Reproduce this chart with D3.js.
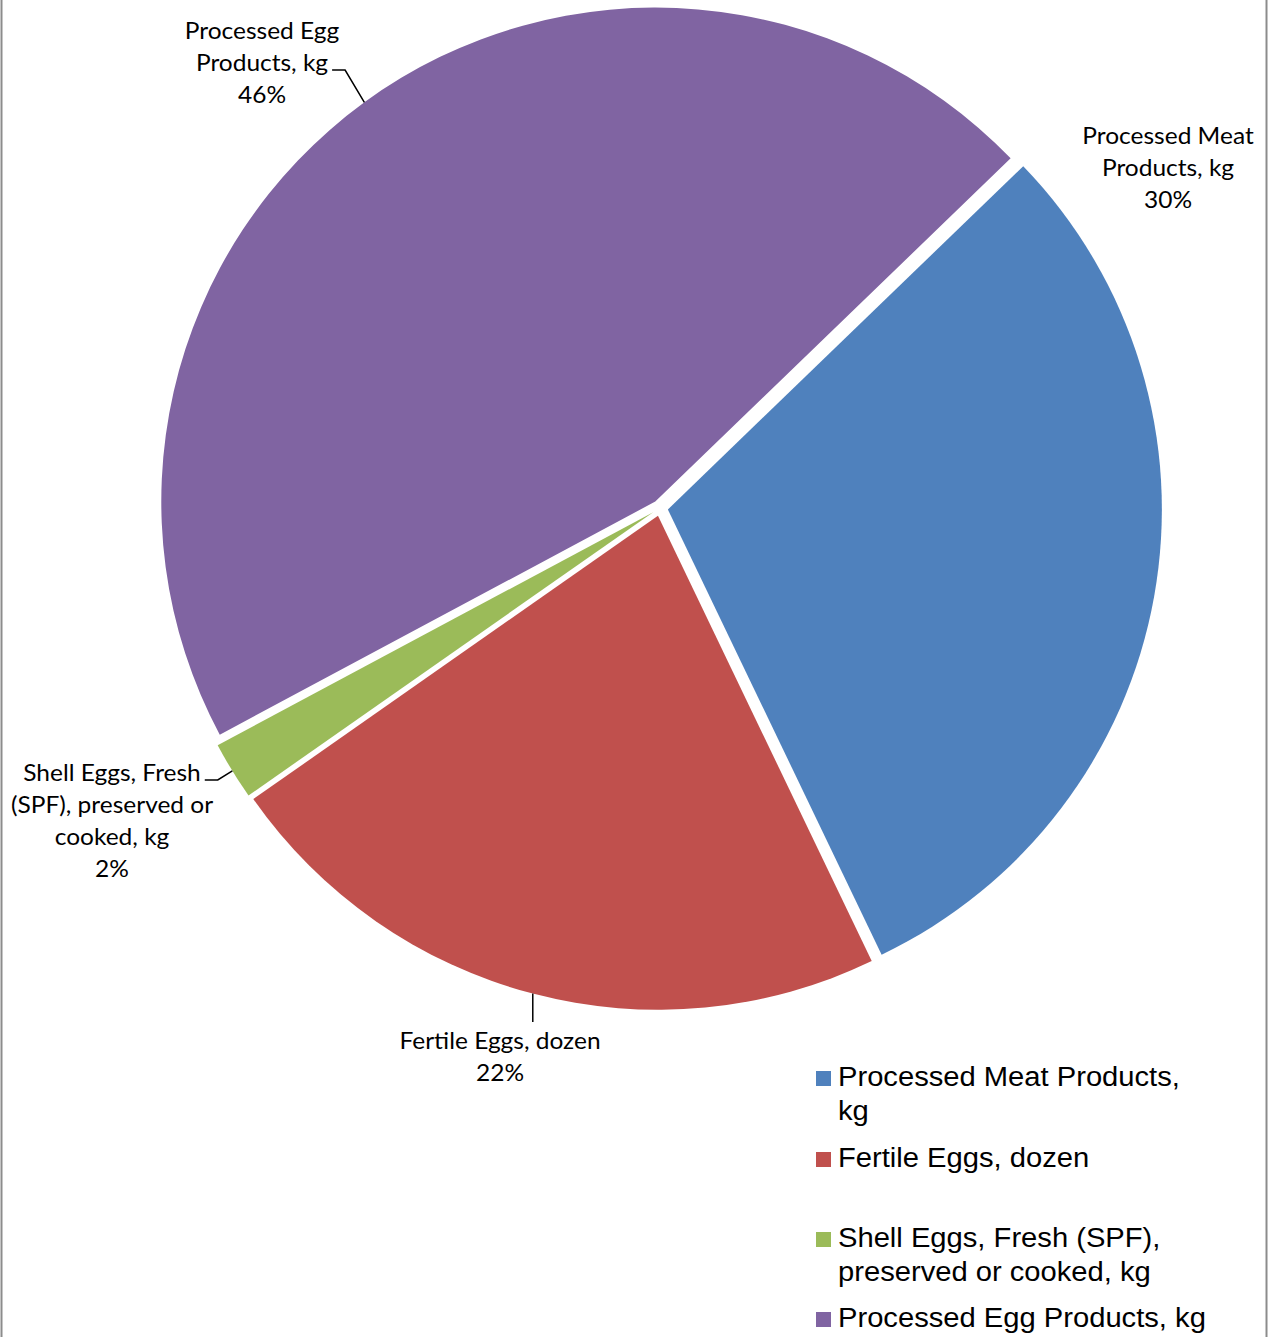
<!DOCTYPE html>
<html>
<head>
<meta charset="utf-8">
<script src="https://cdn.jsdelivr.net/npm/d3@7"></script>
<style>
  body { margin: 0; background: #fff; }
  svg { display: block; }
</style>
</head>
<body>
<svg id="chart" width="1272" height="1337"></svg>
<script>
// share of each product (percent)
const categories = [
  "Processed Meat Products, kg",
  "Fertile Eggs, dozen",
  "Shell Eggs, Fresh (SPF), preserved or cooked, kg",
  "Processed Egg Products, kg"
]
const values = [30.1, 22.4, 1.9, 45.6]
const sliceColors = ["#4F81BD", "#C0504D", "#9BBB59", "#8064A2"]

// label text split the way the chart wraps it
const dataLabelLines = [
  ["Processed Meat", "Products, kg"],
  ["Fertile Eggs, dozen"],
  ["Shell Eggs, Fresh", "(SPF), preserved or", "cooked, kg"],
  ["Processed Egg", "Products, kg"]
]
const legendLines = [
  ["Processed Meat Products,", "kg"],
  ["Fertile Eggs, dozen"],
  ["Shell Eggs, Fresh (SPF),", "preserved or cooked, kg"],
  ["Processed Egg Products, kg"]
]

const svg = d3.select("#chart")
const cx = 660, cy = 508, radius = 494
const explode = 8
const startDeg = 46

// chart area border (only the sides are in frame)
svg.append("rect")
  .attr("x", 1.5).attr("y", -10)
  .attr("width", 1265).attr("height", 1360)
  .attr("fill", "none")
  .attr("stroke", "#8c8c8c")
  .attr("stroke-width", 2)

const color = d3.scaleOrdinal().domain(categories).range(sliceColors)

const pie = d3.pie()
  .sort(null)
  .value(d => d.value)
  .startAngle(startDeg * Math.PI / 180)
  .endAngle(startDeg * Math.PI / 180 + 2 * Math.PI)

const data = categories.map((c, i) => ({ name: c, value: values[i], idx: i }))
const arcs = pie(data)
const total = d3.sum(values)

const arc = d3.arc().innerRadius(0).outerRadius(radius)
const edge = d3.arc().innerRadius(radius).outerRadius(radius)

function midAngle(d) { return (d.startAngle + d.endAngle) / 2 }
function offset(d) {
  const a = midAngle(d)
  return [Math.sin(a) * explode, -Math.cos(a) * explode]
}

const pieGroup = svg.append("g")
  .attr("transform", `translate(${cx},${cy})`)

pieGroup.selectAll("path.slice")
  .data(arcs)
  .join("path")
  .attr("class", "slice")
  .attr("transform", d => `translate(${offset(d)})`)
  .attr("fill", d => color(d.data.name))
  .attr("d", arc)

// data labels: where Excel's best fit put them (centre of the text block)
const labelPos = [
  { x: 1168, y: 136, leader: null },
  { x: 500, y: 1041, leader: "down" },
  { x: 112, y: 773, leader: "side" },
  { x: 262, y: 31, leader: "side" }
]
const lineH = 32
const labelStretch = 1.065   // the source text is a little wider than Lato

const labels = svg.append("g")
  .attr("font-family", "Lato, 'Open Sans', sans-serif")
  .attr("font-size", 23)
  .attr("fill", "#000")
  .attr("text-anchor", "middle")

arcs.forEach((d, i) => {
  const p = labelPos[i]
  const lines = dataLabelLines[i].concat([Math.round(d.data.value / total * 100) + "%"])
  const t = labels.append("text")
    .attr("transform", `translate(${p.x},0) scale(${labelStretch},1)`)
  lines.forEach((ln, j) => {
    t.append("tspan")
      .attr("x", 0)
      .attr("y", p.y + j * lineH)
      .attr("dy", "0.35em")
      .text(ln)
  })

  if (!p.leader) return
  const off = offset(d)
  const e = edge.centroid(d)
  const ex = cx + off[0] + e[0], ey = cy + off[1] + e[1]
  let pts
  if (p.leader === "down") {
    pts = [[ex, ey], [ex, p.y - 19]]
  } else {
    // attach at the right end of the line nearest the pie
    const row = i === 3 ? 1 : 0
    const node = t.selectAll("tspan").nodes()[row]
    const w = node.getComputedTextLength() * labelStretch
    const lx = p.x + w / 2 + 4
    const ly = p.y + row * lineH + 7
    pts = [[lx, ly], [lx + 13, ly], [ex, ey]]
  }
  labels.append("path")
    .attr("d", d3.line()(pts))
    .attr("fill", "none")
    .attr("stroke", "#000")
    .attr("stroke-width", 1.5)
})

// legend
const legendStretch = 1.08
const legend = svg.append("g")
  .attr("font-family", "'Liberation Sans', Arial, sans-serif")
  .attr("font-size", 27)
  .attr("fill", "#000")

const legendBase = [1086, 1167, 1247, 1327]
categories.forEach((c, i) => {
  const g = legend.append("g")
  g.append("rect")
    .attr("x", 816).attr("y", legendBase[i] - 15)
    .attr("width", 15).attr("height", 15)
    .attr("fill", color(c))
  const t = g.append("text")
    .attr("transform", `translate(838,0) scale(${legendStretch},1)`)
  legendLines[i].forEach((ln, j) => {
    t.append("tspan")
      .attr("x", 0)
      .attr("y", legendBase[i] + j * 34)
      .text(ln)
  })
})
</script>
</body>
</html>
